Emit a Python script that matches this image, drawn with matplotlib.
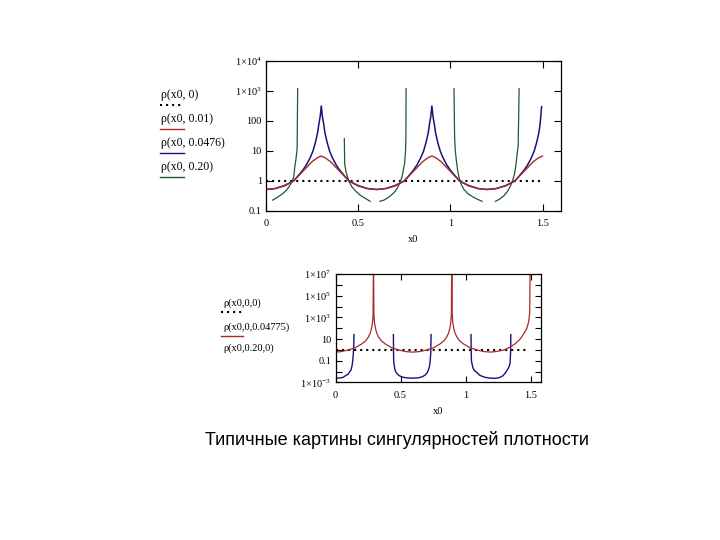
import numpy as np
import matplotlib
matplotlib.use('Agg')
import matplotlib.pyplot as plt
from matplotlib.lines import Line2D
from matplotlib.ticker import FixedLocator, FixedFormatter, NullLocator

plt.rcParams['font.family'] = 'Liberation Serif'
plt.rcParams['mathtext.fontset'] = 'custom'
plt.rcParams['mathtext.rm'] = 'Liberation Serif'
plt.rcParams['mathtext.it'] = 'Liberation Serif:italic'

# ---- верхний график: rho(x0, a) ----
top_names = ['ρ(x0, 0)', 'ρ(x0, 0.01)', 'ρ(x0, 0.0476)', 'ρ(x0, 0.20)']
top_ref_x = [0.0, 1.5]
top_ref_y = [1.0, 1.0]

red_x = [0.0, 0.05, 0.1, 0.15, 0.2, 0.25, 0.28, 0.3, 0.32, 0.35, 0.4, 0.45, 0.5, 0.55, 0.6,
         0.65, 0.7, 0.75, 0.8, 0.85, 0.88, 0.9, 0.92, 0.95, 1.0, 1.05, 1.1, 1.15, 1.2,
         1.25, 1.3, 1.35, 1.4, 1.45, 1.48, 1.5]
red_y = [0.52, 0.56, 0.71, 1.0, 2.1, 4.4, 6.0, 6.8, 6.0, 4.4, 2.1, 1.0, 0.71, 0.56, 0.52,
         0.56, 0.71, 1.0, 2.1, 4.4, 6.0, 6.8, 6.0, 4.4, 2.1, 1.0, 0.71, 0.56, 0.52,
         0.56, 0.71, 1.0, 2.1, 4.4, 6.0, 6.8]

blue_x = [0.0, 0.05, 0.1, 0.15, 0.175, 0.2, 0.22, 0.24, 0.255, 0.268, 0.28, 0.287, 0.294, 0.3,
          0.306, 0.313, 0.32, 0.332, 0.345, 0.36, 0.38, 0.4, 0.425, 0.45, 0.5, 0.55, 0.6,
          0.65, 0.7, 0.75, 0.775, 0.8, 0.82, 0.84, 0.855, 0.868, 0.88, 0.887, 0.894, 0.9,
          0.906, 0.913, 0.92, 0.932, 0.945, 0.96, 0.98, 1.0, 1.025, 1.05, 1.1, 1.15, 1.2,
          1.25, 1.3, 1.35, 1.375, 1.4, 1.42, 1.44, 1.455, 1.468, 1.48, 1.487, 1.495]
blue_y = [0.52, 0.56, 0.69, 1.0, 1.5, 2.3, 3.5, 6.0, 10, 19, 40, 79, 141, 316,
          141, 79, 40, 19, 10, 6.0, 3.5, 2.3, 1.5, 1.0, 0.69, 0.56, 0.52,
          0.56, 0.69, 1.0, 1.5, 2.3, 3.5, 6.0, 10, 19, 40, 79, 141, 316,
          141, 79, 40, 19, 10, 6.0, 3.5, 2.3, 1.5, 1.0, 0.69, 0.56, 0.52,
          0.56, 0.69, 1.0, 1.5, 2.3, 3.5, 6.0, 10, 19, 40, 79, 300]

# ветви кривой rho(x0, 0.20)
green_x = [
    [0.036, 0.060, 0.086, 0.105, 0.122, 0.137, 0.150, 0.158, 0.163, 0.169, 0.172],
    [0.425, 0.427, 0.433, 0.440, 0.449, 0.465, 0.485, 0.510, 0.540, 0.565],
    [0.618, 0.640, 0.663, 0.683, 0.699, 0.715, 0.726, 0.737, 0.744, 0.752, 0.757, 0.759, 0.760],
    [1.020, 1.023, 1.027, 1.033, 1.040, 1.047, 1.060, 1.074, 1.095, 1.120, 1.145, 1.172],
    [1.245, 1.268, 1.290, 1.310, 1.326, 1.338, 1.348, 1.356, 1.362, 1.368, 1.373],
]
green_y = [
    [0.23, 0.28, 0.36, 0.45, 0.60, 0.85, 1.3, 3.5, 5.5, 12, 1200],
    [26, 3.7, 2.2, 1.5, 1.0, 0.65, 0.47, 0.34, 0.26, 0.21],
    [0.21, 0.23, 0.28, 0.35, 0.44, 0.62, 0.89, 1.3, 2.1, 4.0, 10, 30, 1200],
    [1200, 30, 10, 4.7, 2.2, 1.3, 0.75, 0.52, 0.38, 0.30, 0.25, 0.21],
    [0.21, 0.25, 0.32, 0.45, 0.68, 1.05, 1.7, 3.5, 7.8, 15, 1200],
]
top_yticks = [0.1, 1, 10, 100, 1e3, 1e4]
top_ylabels = ['0.1', '1', '10', '100', '1×10$^3$', '1×10$^4$']
top_xticks = [0, 0.5, 1, 1.5]
top_xlabels = ['0', '0.5', '1', '1.5']

# ---- нижний график ----
bot_names = ['ρ(x0,0,0)', 'ρ(x0,0,0.04775)', 'ρ(x0,0.20,0)']
bot_ref_x = [0.0, 1.48]
bot_ref_y = [1.0, 1.0]

red2_x = [0.0, 0.042, 0.092, 0.152, 0.202, 0.232, 0.252, 0.267, 0.277, 0.284, 0.289, 0.292,
          0.295, 0.3, 0.307, 0.317, 0.332, 0.352, 0.382, 0.432, 0.492, 0.542, 0.593,
          0.644, 0.694, 0.754, 0.804, 0.834, 0.854, 0.869, 0.879, 0.886, 0.891, 0.894,
          0.897, 0.902, 0.909, 0.919, 0.934, 0.954, 0.984, 1.034, 1.094, 1.144, 1.195,
          1.247, 1.297, 1.34, 1.38, 1.42, 1.45, 1.47, 1.485, 1.493, 1.497]
red2_y = [0.63, 0.7, 0.95, 1.6, 3.6, 7, 15, 35, 100, 320, 2000, 1e9,
          2000, 320, 100, 35, 15, 7, 3.6, 1.6, 0.95, 0.7, 0.63,
          0.7, 0.95, 1.6, 3.6, 7, 15, 35, 100, 320, 2000, 1e9,
          2000, 320, 100, 35, 15, 7, 3.6, 1.6, 0.95, 0.7, 0.63,
          0.75, 1.0, 1.8, 3.6, 10, 35, 90, 400, 2500, 1e9]

navy_x = [
    [0.0, 0.03, 0.06, 0.08, 0.098, 0.11, 0.119, 0.127, 0.132, 0.137, 0.14, 0.142],
    [0.445, 0.446, 0.447, 0.45, 0.455, 0.462, 0.475, 0.49, 0.51, 0.54, 0.59, 0.64, 0.67,
     0.69, 0.705, 0.715, 0.722, 0.728, 0.732, 0.735],
    [1.042, 1.043, 1.045, 1.05, 1.058, 1.07, 1.086, 1.11, 1.15, 1.19, 1.227, 1.26, 1.285,
     1.304, 1.322, 1.335, 1.342, 1.346, 1.348],
]
navy_y = [
    [0.0025, 0.0026, 0.003, 0.0045, 0.006, 0.01, 0.014, 0.035, 0.09, 0.5, 3, 26],
    [26, 1.0, 0.1, 0.05, 0.02, 0.01, 0.006, 0.0042, 0.0033, 0.0027, 0.0025, 0.0027, 0.0035,
     0.005, 0.008, 0.015, 0.03, 0.1, 0.5, 26],
    [26, 1.0, 0.1, 0.05, 0.02, 0.012, 0.0085, 0.0045, 0.003, 0.0025, 0.0024, 0.0028, 0.004,
     0.007, 0.015, 0.03, 0.06, 0.5, 26],
]
bot_yticks = [1e-3, 1e-2, 0.1, 1, 10, 100, 1e3, 1e4, 1e5, 1e6, 1e7]
bot_ylabels = ['1×10$^{-3}$', '', '0.1', '', '10', '', '1×10$^3$', '', '1×10$^5$', '', '1×10$^7$']

c_red = '#a82a2a'
c_blue = '#14147a'
c_green = '#1f5a2a'
dots = (0, (1, 1.9))

fig = plt.figure(figsize=(7.2, 5.4), dpi=100)


def style_axis(ax, xmax, yticks, ylabels, ylim, tick_len):
    ax.set_yscale('log')
    ax.set_xlim(0, xmax)
    ax.set_ylim(*ylim)
    ax.set_xticks(top_xticks)
    ax.set_xticklabels(top_xlabels)
    ax.yaxis.set_major_locator(FixedLocator(yticks))
    ax.yaxis.set_major_formatter(FixedFormatter(ylabels))
    ax.yaxis.set_minor_locator(NullLocator())
    ax.tick_params(direction='in', top=True, right=True, length=tick_len, width=0.8,
                   labelsize=7.5, pad=3)
    ax.tick_params(axis='x', pad=6)
    for s in ax.spines.values():
        s.set_linewidth(0.9)
    ax.set_xlabel('x0', fontsize=7.5, labelpad=5)


# верхний
ax1 = fig.add_axes([0.3694, 0.6093, 0.4097, 0.2778])
ax1.plot(top_ref_x, top_ref_y, color='black', lw=1.5, ls=dots)
for gx, gy in zip(green_x, green_y):
    ax1.plot(gx, gy, color=c_green, lw=0.9)
ax1.plot(blue_x, blue_y, color=c_blue, lw=1.1)
ax1.plot(red_x, red_y, color=c_red, lw=1.0)
style_axis(ax1, 1.6, top_yticks, top_ylabels, (0.1, 1e4), 5)

# нижний
ax2 = fig.add_axes([0.466, 0.2917, 0.2854, 0.2009])
ax2.plot(bot_ref_x, bot_ref_y, color='black', lw=1.5, ls=dots)
for nx, ny in zip(navy_x, navy_y):
    ax2.plot(nx, ny, color=c_blue, lw=1.0)
ax2.plot(red2_x, red2_y, color=c_red, lw=0.9)
style_axis(ax2, 1.58, bot_yticks, bot_ylabels, (1e-3, 1e7), 4)

# подписи кривых в стиле Mathcad (текст над образцом линии)
W, H = 720.0, 540.0
top_styles = [('black', dots, 1.5), (c_red, '-', 1.0), (c_blue, '-', 1.0), (c_green, '-', 1.0)]
top_text_y = [95, 119, 143, 167]
for name, ty, (c, ls, lw) in zip(top_names, top_text_y, top_styles):
    fig.text(161 / W, 1 - ty / H, name, fontsize=8.5, va='center', ha='left')
    fig.add_artist(Line2D([160 / W, 184 / W], [1 - (ty + 9.5) / H] * 2, color=c, ls=ls, lw=lw))

bot_styles = [('black', dots, 1.5), (c_red, '-', 1.0), None]
bot_text_y = [303, 327, 348]
for name, ty, st in zip(bot_names, bot_text_y, bot_styles):
    fig.text(223 / W, 1 - ty / H, name, fontsize=7.5, va='center', ha='left')
    if st is not None:
        c, ls, lw = st
        fig.add_artist(Line2D([221 / W, 243 / W], [1 - (ty + 8.5) / H] * 2, color=c, ls=ls, lw=lw))

fig.text(0.551, 1 - 440 / H, 'Типичные картины сингулярностей плотности',
         fontsize=13, family='Liberation Sans', ha='center', va='center')

fig.savefig('out.png', dpi=100)
